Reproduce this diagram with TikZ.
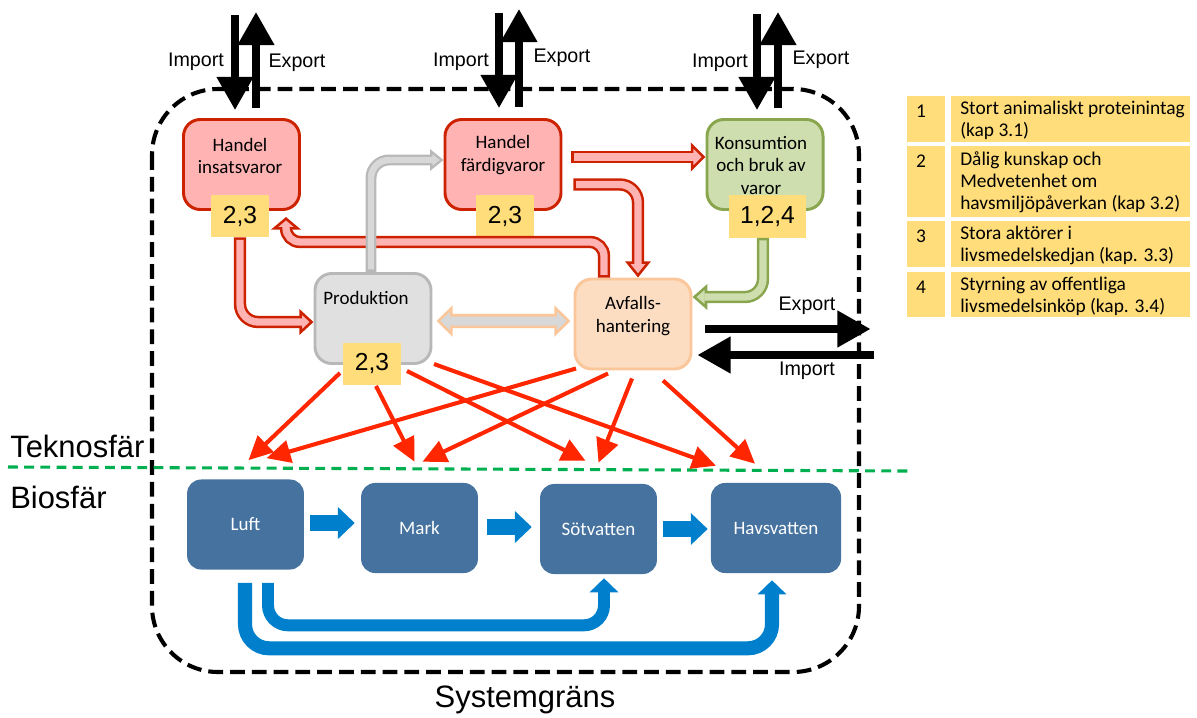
\documentclass[tikz,border=0pt]{standalone}
\usepackage{fontspec}
\setmainfont{Liberation Sans}
\newfontfamily\cali{Carlito}
\usetikzlibrary{arrows.meta, calc}

\definecolor{hdark}{RGB}{204,34,0}
\definecolor{hfill}{RGB}{255,179,179}
\definecolor{kdark}{RGB}{137,165,78}
\definecolor{kfill}{RGB}{206,222,174}
\definecolor{pdark}{RGB}{184,184,184}
\definecolor{pfill}{RGB}{224,224,224}
\definecolor{adark}{RGB}{250,198,154}
\definecolor{afill}{RGB}{252,221,193}
\definecolor{gfill}{RGB}{216,216,216}
\definecolor{tagy}{RGB}{255,221,122}
\definecolor{biofill}{RGB}{70,114,160}
\definecolor{bioarrow}{RGB}{0,128,204}
\definecolor{emisred}{RGB}{255,38,0}
\definecolor{sphere}{RGB}{0,176,80}

\tikzset{
  procbox/.style={rounded corners=0.42cm, line width=2.1pt, minimum width=2.9cm, minimum height=2.25cm},
  numtag/.style={fill=tagy, minimum width=1.45cm, minimum height=1.05cm, inner sep=0pt, font=\fontsize{17.5}{20}\selectfont},
  boxtxt/.style={font=\cali\fontsize{13.5}{15.8}\selectfont, align=center, inner sep=0pt},
  biobox/.style={fill=biofill, rounded corners=0.35cm, minimum width=2.92cm, minimum height=2.25cm, text=white, font=\cali\fontsize{13.5}{15.8}\selectfont},
  bandout/.style={line width=8.8pt, rounded corners=0.45cm},
  bandin/.style={line width=5.2pt, rounded corners=0.45cm, shorten <=1.8pt},
  trade/.style={line width=5pt, -{Triangle[length=23.5pt, width=25pt]}},
  tradetxt/.style={font=\fontsize{14}{16}\selectfont, inner sep=0pt},
  emis/.style={draw=emisred, line width=2.9pt, -{Triangle[length=17pt, width=16pt]}},
  bioflow/.style={draw=bioarrow, line width=11.4pt, -{Triangle[length=12pt, width=22pt]}},
  bioband/.style={draw=bioarrow, rounded corners=0.5cm, -{Triangle[length=10pt, width=20pt]}},
  legtxt/.style={font=\cali\fontsize{13.8}{15.8}\selectfont, align=left, inner sep=0pt},
  sysline/.style={line width=2.9pt, dash pattern=on 10.5pt off 5pt, rounded corners=1.65cm},
  sphereline/.style={draw=sphere, line width=2.2pt, dash pattern=on 7pt off 4.5pt},
  bigtxt/.style={font=\fontsize{22}{26}\selectfont, inner sep=0pt}
}

\begin{document}
\begin{tikzpicture}[x=0.025cm, y=-0.025cm]
\useasboundingbox (0,0) rectangle (1197,717);

% system boundary and sphere line
\draw[sysline] (152,89) rectangle (859,672);
\draw[sphereline] (8,467) -- (908,471);
\node[bigtxt, anchor=west] (tekno) at (10,446) {Teknosfär};
\node[bigtxt, anchor=west] (bios) at (10,497) {Biosfär};
\node[bigtxt] (sysg) at (525,700) {Systemgräns};

% technosphere boxes
\node[procbox, draw=hdark, fill=hfill] (hi) at (241.5,164.5) {};
\node[procbox, draw=hdark, fill=hfill] (hf) at (503,164.5) {};
\node[procbox, draw=kdark, fill=kfill] (ko) at (765,164.5) {};
\node[procbox, draw=pdark, fill=pfill] (pr) at (373,318.5) {};
\node[procbox, draw=adark, fill=afill] (av) at (633,324) {};
\node[boxtxt] (hi-t) at (240,156) {Handel\\insatsvaror};
\node[boxtxt] (hf-t) at (503,155) {Handel\\färdigvaror};
\node[boxtxt] (ko-t) at (761,165.5) {Konsumtion\\och bruk av\\varor};
\node[boxtxt] (pr-t) at (366,298) {Produktion};
\node[boxtxt] (av-t) at (633,316) {Avfalls-\\hantering};
\node[numtag] (hi-n) at (240,216) {2,3};
\node[numtag] (hf-n) at (505,216.5) {2,3};
\node[numtag, minimum width=1.93cm] (ko-n) at (767.5,216.5) {1,2,4};
\node[numtag] (pr-n) at (372,363.5) {2,3};

% biosphere boxes
\node[biobox] (lu) at (245.5,524.5) {Luft};
\node[biobox] (ma) at (419.5,528) {Mark};
\node[biobox] (so) at (598.5,529) {Sötvatten};
\node[biobox, minimum width=3.25cm] (ha) at (776,528) {Havsvatten};

% flows between technosphere boxes
\draw[bandout, draw=hdark, -{Triangle[length=10pt, width=18pt, line width=1.8pt, fill=hfill]}] (hi-n.south) |- ($(pr.west)+(0,3.5)$);
\draw[bandin, draw=hfill, shorten >=8pt] (hi-n.south) |- ($(pr.west)+(0,3.5)$);
\coordinate (b-tip) at ($(hi.south)+(44.5,6)$);
\draw[bandout, rounded corners=0.35cm, draw=hdark, -{Triangle[length=9pt, width=21pt, line width=1.8pt, fill=hfill]}] ($(av.north)+(-29,0)$) |- ($(b-tip)+(0,25)$) -- (b-tip);
\draw[bandin, rounded corners=0.35cm, draw=hfill, shorten >=7pt] ($(av.north)+(-29,0)$) |- ($(b-tip)+(0,25)$) -- (b-tip);
\draw[bandout, draw=hdark, -{Triangle[length=10.5pt, width=20.5pt, line width=1.8pt, fill=hfill]}] ($(hf.east)+(9,-7.5)$) -- ($(ko.west)+(0,-7.5)$);
\draw[bandin, draw=hfill, shorten >=8.5pt] ($(hf.east)+(9,-7.5)$) -- ($(ko.west)+(0,-7.5)$);
\draw[bandout, draw=hdark, -{Triangle[length=11.5pt, width=18pt, line width=1.8pt, fill=hfill]}] ($(hf.east)+(11,20)$) -| ($(av.north)+(5,0)$);
\draw[bandin, draw=hfill, shorten >=9.5pt] ($(hf.east)+(11,20)$) -| ($(av.north)+(5,0)$);
\draw[bandout, line width=7.8pt, draw=pdark, -{Triangle[length=9.5pt, width=15pt, line width=1.6pt, fill=gfill]}] ($(pr.north)+(-2,0)$) |- ($(hf.west)+(0,-4.5)$);
\draw[bandin, line width=4.6pt, draw=gfill, shorten >=7.5pt] ($(pr.north)+(-2,0)$) |- ($(hf.west)+(0,-4.5)$);
\draw[bandout, draw=kdark, -{Triangle[length=10.5pt, width=18pt, line width=1.8pt, fill=kfill]}] ($(ko-n.south)+(-4.5,0)$) |- ($(av.east)+(0,-27)$);
\draw[bandin, draw=kfill, shorten >=8.5pt] ($(ko-n.south)+(-4.5,0)$) |- ($(av.east)+(0,-27)$);
\draw[bandout, line width=10pt, draw=adark, {Triangle[length=11.5pt, width=22pt, line width=1.8pt, fill=gfill]}-{Triangle[length=11.5pt, width=22pt, line width=1.8pt, fill=gfill]}] ($(pr.east)+(4,2.5)$) -- ($(av.west)+(-3,-3)$);
\draw[line width=6.4pt, draw=gfill, shorten <=9.5pt, shorten >=9.5pt] ($(pr.east)+(4,2.5)$) -- ($(av.west)+(-3,-3)$);

% emissions to the biosphere
\draw[emis] ($(pr.south)+(-33,8)$) -- ($(lu.north)+(3,-19)$);
\draw[emis] ($(pr.south)+(3,21)$) -- ($(ma.north)+(-5,-21)$);
\draw[emis] ($(pr.south)+(34,6)$) -- ($(so.north)+(-13,-23)$);
\draw[emis] ($(pr.south)+(61,-1)$) -- ($(ha.north)+(-60,-17)$);
\draw[emis] ($(av.south)+(-57,-2)$) -- ($(lu.north)+(21,-21)$);
\draw[emis] ($(av.south)+(-25,3)$) -- ($(ma.north)+(3,-21)$);
\draw[emis] ($(av.south)+(-1,8)$) -- ($(so.north)+(0,-21)$);
\draw[emis] ($(av.south)+(30,10)$) -- ($(ha.north)+(-21,-19)$);

% biosphere flows
\draw[bioflow] ($(lu.east)+(6,-1.5)$) -- ($(ma.west)+(-6,-5)$);
\draw[bioflow] ($(ma.east)+(9,-1)$) -- ($(so.west)+(-8,-2)$);
\draw[bioflow] ($(so.east)+(6,0)$) -- ($(ha.west)+(-3,1)$);
\draw[bioband, line width=8.5pt] ($(lu.south)+(22.5,13)$) |- ($(so.south)+(5.5,51)$) -- ($(so.south)+(5.5,4)$);
\draw[bioband, line width=10pt, rounded corners=0.6cm] ($(lu.south)+(-0.5,13)$) |- ($(ha.south)+(-4,75)$) -- ($(ha.south)+(-4,7)$);

% import and export
\draw[trade] ($(hi.north)+(-6.5,-103)$) -- ($(hi.north)+(-6.5,-8)$);
\draw[trade] ($(hi.north)+(14.5,-10)$) -- ($(hi.north)+(14.5,-106)$);
\draw[trade] ($(hf.north)+(-4,-105)$) -- ($(hf.north)+(-4,-10)$);
\draw[trade] ($(hf.north)+(16,-11)$) -- ($(hf.north)+(16,-109)$);
\draw[trade] ($(ko.north)+(-8,-104)$) -- ($(ko.north)+(-8,-8)$);
\draw[trade] ($(ko.north)+(13,-10)$) -- ($(ko.north)+(13,-106)$);
\draw[trade] ($(av.east)+(13,5)$) -- ($(av.east)+(178,5)$);
\draw[trade] ($(av.east)+(181,31)$) -- ($(av.east)+(5,31)$);
\node[tradetxt] (imp1) at (196,62) {Import};
\node[tradetxt] (exp1) at (297,63) {Export};
\node[tradetxt] (imp2) at (461,62) {Import};
\node[tradetxt] (exp2) at (562,58) {Export};
\node[tradetxt] (imp3) at (720,63) {Import};
\node[tradetxt] (exp3) at (821,60) {Export};
\node[tradetxt] (exp4) at (807,306) {Export};
\node[tradetxt] (imp4) at (807,371) {Import};

% legend
\foreach \n/\ya/\yb/\txt in {1/96/142/{Stort animaliskt proteinintag\\(kap 3.1)},
    2/146/217/{Dålig kunskap och\\Medvetenhet om\\havsmiljöpåverkan (kap 3.2)},
    3/221/267/{Stora aktörer i\\livsmedelskedjan (kap. 3.3)},
    4/272/317/{Styrning av offentliga\\livsmedelsinköp (kap. 3.4)}} {
  \fill[tagy] (907,\ya) rectangle (945,\yb);
  \fill[tagy] (951,\ya) rectangle (1190,\yb);
  \node[legtxt] (num\n) at (921,\ya+15) {\n};
  \node[legtxt, anchor=north west] (leg\n) at (960,\ya+5) {\txt};
}
\end{tikzpicture}
\end{document}
